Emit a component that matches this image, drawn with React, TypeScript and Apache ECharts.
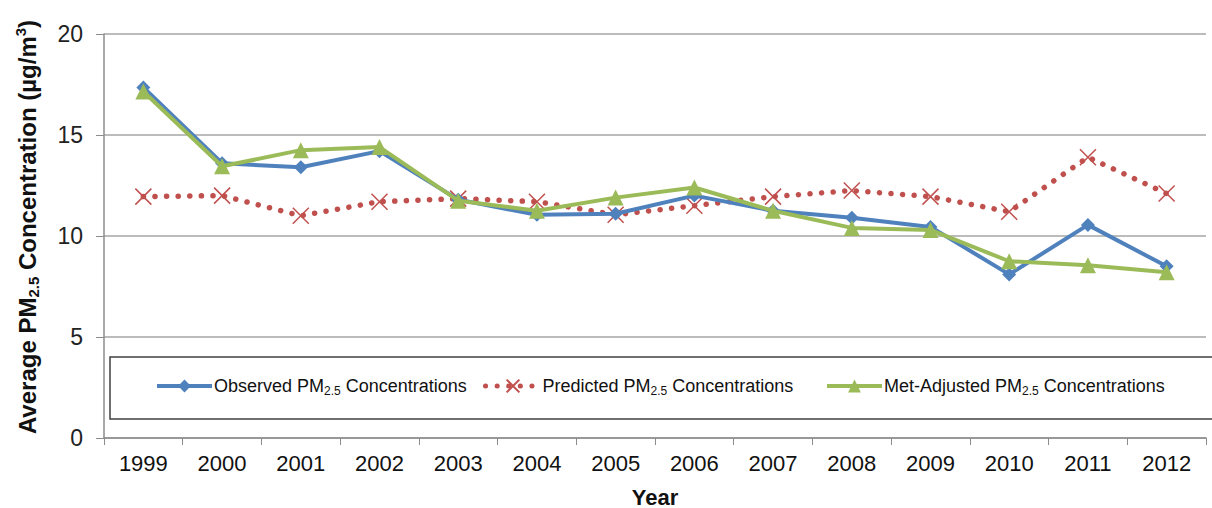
import React, { useEffect, useRef } from "react";
import * as echarts from "echarts";

const years = ["1999", "2000", "2001", "2002", "2003", "2004", "2005", "2006", "2007", "2008", "2009", "2010", "2011", "2012"];
const observed = [17.35, 13.6, 13.4, 14.2, 11.8, 11.05, 11.1, 12.0, 11.25, 10.9, 10.45, 8.1, 10.55, 8.5];
const predicted = [11.95, 12.0, 11.0, 11.7, 11.85, 11.7, 11.05, 11.5, 11.95, 12.25, 11.95, 11.2, 13.9, 12.1];
const metAdjusted = [17.15, 13.45, 14.25, 14.4, 11.75, 11.25, 11.9, 12.4, 11.25, 10.4, 10.3, 8.75, 8.55, 8.2];

const seriesNames = ["Observed PM2.5 Concentrations", "Predicted PM2.5 Concentrations", "Met-Adjusted PM2.5 Concentrations"];
const legendLabels = [
  "{a|Observed PM}{s|2.5}{a| Concentrations}",
  "{a|Predicted PM}{s|2.5}{a| Concentrations}",
  "{a|Met-Adjusted PM}{s|2.5}{a| Concentrations}",
];
const legendLefts = [155, 483, 825];

const BLUE = "#4F81BD";
const RED = "#C0504D";
const GREEN = "#9BBB59";
const FONT = "'Liberation Sans', Arial, sans-serif";
const NARROW = "'Liberation Sans Narrow', 'Arial Narrow', 'Liberation Sans', sans-serif";

export default function App() {
  const ref = useRef<HTMLDivElement>(null);
  useEffect(() => {
    if (!ref.current) return;
    const chart = echarts.init(ref.current, undefined, { renderer: "svg" });
    const legendRich = {
      a: { fontFamily: FONT, fontSize: 18, lineHeight: 22, color: "#111" },
      s: { fontFamily: FONT, fontSize: 12, lineHeight: 12, verticalAlign: "bottom", color: "#111" },
    };
    chart.setOption({
      animation: false,
      backgroundColor: "#fff",
      grid: { left: 104, top: 34, right: 6, bottom: 70, containLabel: false, outerBoundsMode: "none" },
      graphic: [
        {
          type: "rect",
          z: 1,
          shape: { x: 110, y: 357, width: 1112, height: 62 },
          style: { fill: "#fff", stroke: "#404040", lineWidth: 1.5 },
        },
      ],
      legend: seriesNames.map((n, i) => ({
        data: [n],
        left: legendLefts[i],
        top: 377,
        padding: 0,
        itemWidth: 55,
        itemHeight: 16,
        itemGap: 0,
        z: 5,
        selectedMode: false,
        formatter: () => legendLabels[i],
        lineStyle: { width: i === 1 ? 5 : 4 },
        textStyle: { rich: legendRich, padding: [0, 0, 0, -3] },
      })),
      xAxis: {
        type: "category",
        data: years,
        boundaryGap: true,
        axisLine: { lineStyle: { color: "#8c8c8c", width: 1.5 } },
        axisTick: { show: true, length: 7, lineStyle: { color: "#8c8c8c" } },
        axisLabel: { fontFamily: NARROW, fontSize: 22, color: "#111", margin: 14 },
        name: "Year",
        nameLocation: "middle",
        nameGap: 48,
        nameTextStyle: { fontFamily: NARROW, fontSize: 22, fontWeight: "bold", color: "#111" },
      },
      yAxis: {
        type: "value",
        min: 0,
        max: 20,
        interval: 5,
        axisLine: { show: true, lineStyle: { color: "#8c8c8c", width: 1.5 } },
        axisTick: { show: true, length: 8, lineStyle: { color: "#8c8c8c" } },
        splitLine: { lineStyle: { color: "#a6a6a6", width: 1.5 } },
        axisLabel: { fontFamily: FONT, fontSize: 23, color: "#222", margin: 21 },
        name: "{a|Average PM}{s|2.5}{a| Concentration (µg/m}{p|3}{a|)}",
        nameLocation: "middle",
        nameGap: 63,
        nameRotate: 90,
        nameTextStyle: {
          padding: [0, 0, 0, 18],
          rich: {
            a: { fontFamily: FONT, fontSize: 24, fontWeight: "bold", lineHeight: 28, color: "#111" },
            s: { fontFamily: FONT, fontSize: 15, fontWeight: "bold", lineHeight: 15, verticalAlign: "bottom", color: "#111" },
            p: { fontFamily: FONT, fontSize: 15, fontWeight: "bold", lineHeight: 15, verticalAlign: "top", color: "#111" },
          },
        },
      },
      series: [
        {
          name: seriesNames[0],
          type: "line",
          data: observed,
          symbol: "diamond",
          symbolSize: 14,
          z: 3,
          itemStyle: { color: BLUE },
          lineStyle: { color: BLUE, width: 4 },
        },
        {
          name: seriesNames[1],
          type: "line",
          data: predicted,
          symbol: "path://M0,0L10,10M10,0L0,10",
          symbolSize: 16,
          z: 2,
          itemStyle: { color: "none", borderColor: RED, borderWidth: 1.5 },
          lineStyle: { color: RED, width: 5.5, type: [0.1, 11.5], cap: "round" },
        },
        {
          name: seriesNames[2],
          type: "line",
          data: metAdjusted,
          symbol: "triangle",
          symbolSize: 16,
          z: 4,
          itemStyle: { color: GREEN },
          lineStyle: { color: GREEN, width: 4 },
        },
      ],
    });
    return () => chart.dispose();
  }, []);
  return <div ref={ref} style={{ width: 1212, height: 508, position: "absolute", left: 0, top: 0 }} />;
}
